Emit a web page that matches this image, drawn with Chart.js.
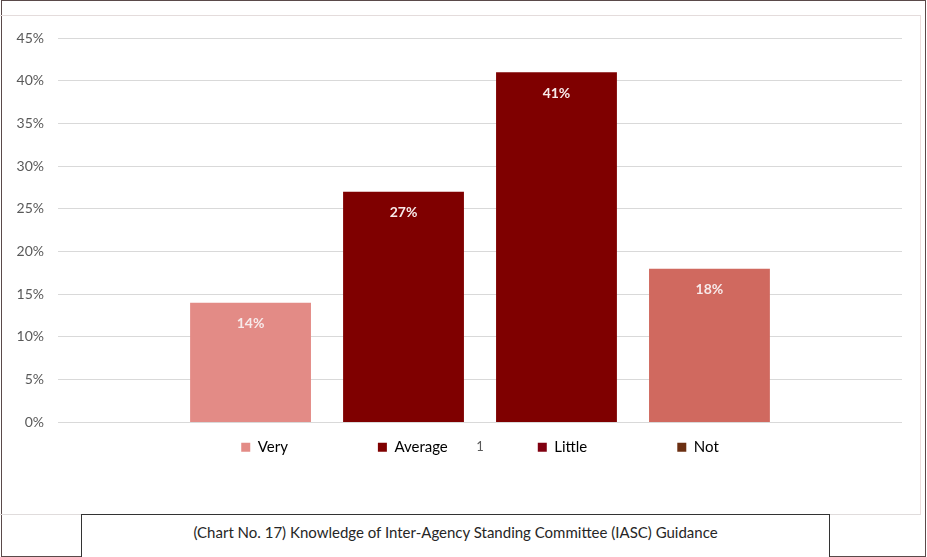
<!DOCTYPE html>
<html>
<head>
<meta charset="utf-8">
<script src="https://cdn.jsdelivr.net/npm/chart.js@4/dist/chart.umd.min.js"></script>
<style>
  html, body { margin: 0; padding: 0; background: #ffffff; }
  #wrap { position: relative; width: 927px; height: 557px; overflow: hidden; background: #fff; }
  #frame { position: absolute; left: 1px; top: 0px; width: 923px; height: 555px; border: 1px solid #5a4a4a; }
  #inner { position: absolute; left: 0px; top: 15px; width: 920px; height: 498px; border-top: 1px solid #e4dcdc; border-right: 1px solid #ecdcdc; border-bottom: 1px solid #e0dcdc; }
  #chart { position: absolute; left: 0; top: 0; }
  #titlebox { position: absolute; left: 81px; top: 514px; width: 747px; height: 44px; border: 1.5px solid #333; box-sizing: content-box;
    font-family: Lato, "Open Sans", sans-serif; font-size: 15px; color: #262626; text-align: center; line-height: 16px; padding-top: 9px; background: #fff; }
</style>
</head>
<body>
<div id="wrap">
  <div id="frame"></div>
  <div id="inner"></div>
  <canvas id="chart" width="927" height="514"></canvas>
  <div id="titlebox">(Chart No. 17) Knowledge of Inter-Agency Standing Committee (IASC) Guidance</div>
</div>
<script>
// ---- data ----
const categories = ["1"];
const seriesNames = ["Very", "Average", "Little", "Not"];
const veryValues = [14];
const averageValues = [27];
const littleValues = [41];
const notValues = [18];
const yTickMax = 45;
const yTickStep = 5;

// ---- styles ----
const barColors = ["#E38B86", "#7F0000", "#7F0000", "#D0695F"];
const legendColors = ["#E38B86", "#7F0000", "#800010", "#6B2F12"];
const FONT = "Lato, 'Open Sans', sans-serif";

const seriesValues = [veryValues, averageValues, littleValues, notValues];

const legendRow = {
  id: 'legendRow',
  afterInit(chart) {
    const lg = chart.legend;
    if (!lg) return;
    const orig = lg.fit;
    lg.fit = function () { orig.call(this); this.height = 0; };
  },
  afterLayout(chart) {
    const lg = chart.legend;
    const xs = chart.scales.x;
    if (!lg || !xs) return;
    const pad = lg.options.labels.padding;
    const fs = lg.options.labels.font.size;
    const tickFs = xs.options.ticks.font.size;
    const labelCenter = xs.top + xs.options.ticks.padding + tickFs * 1.2 / 2;
    lg.left = chart.chartArea.left;
    lg.right = chart.chartArea.right;
    lg.width = lg.right - lg.left;
    lg.top = labelCenter - pad - fs / 2;
    lg.height = fs + pad + 4;
    lg.bottom = lg.top + lg.height;
  }
};

const barLabels = {
  id: 'barLabels',
  afterDatasetsDraw(chart) {
    const ctx = chart.ctx;
    ctx.save();
    ctx.font = "bold 14px " + FONT;
    ctx.fillStyle = "#F7EAEA";
    ctx.textAlign = "center";
    ctx.textBaseline = "middle";
    chart.data.datasets.forEach((ds, i) => {
      const meta = chart.getDatasetMeta(i);
      meta.data.forEach((bar, j) => {
        ctx.fillText(ds.data[j] + "%", bar.x, bar.y + 21);
      });
    });
    ctx.restore();
  }
};

new Chart(document.getElementById('chart'), {
  type: 'bar',
  data: {
    labels: categories,
    datasets: seriesNames.map((name, i) => ({
      label: name,
      data: seriesValues[i],
      backgroundColor: barColors[i],
      borderWidth: 0,
      categoryPercentage: 0.725,
      barPercentage: 0.79
    }))
  },
  options: {
    responsive: false,
    animation: false,
    layout: { padding: { left: 0, right: 25, top: 38, bottom: 42 } },
    plugins: {
      title: { display: false },
      tooltip: { enabled: false },
      legend: {
        display: true,
        position: 'bottom',
        labels: {
          boxWidth: 9,
          boxHeight: 9,
          padding: 90,
          color: '#595959',
          font: { family: FONT, size: 15 },
          generateLabels(chart) {
            return chart.data.datasets.map((ds, i) => ({
              text: ds.label,
              fillStyle: legendColors[i],
              strokeStyle: legendColors[i],
              lineWidth: 0,
              hidden: false,
              datasetIndex: i
            }));
          }
        }
      }
    },
    scales: {
      x: {
        grid: { display: false, drawTicks: false },
        border: { display: false },
        ticks: { color: '#595959', padding: 17, font: { family: FONT, size: 13 } }
      },
      y: {
        min: 0,
        max: yTickMax,
        afterFit(scale) { scale.width = 58; },
        grid: { color: '#d9d9d9', lineWidth: 1, drawTicks: false },
        border: { display: false },
        ticks: {
          stepSize: yTickStep,
          padding: 14,
          color: '#595959',
          font: { family: FONT, size: 14 },
          callback: (v) => v + '%'
        }
      }
    }
  },
  plugins: [legendRow, barLabels]
});
</script>
</body>
</html>
